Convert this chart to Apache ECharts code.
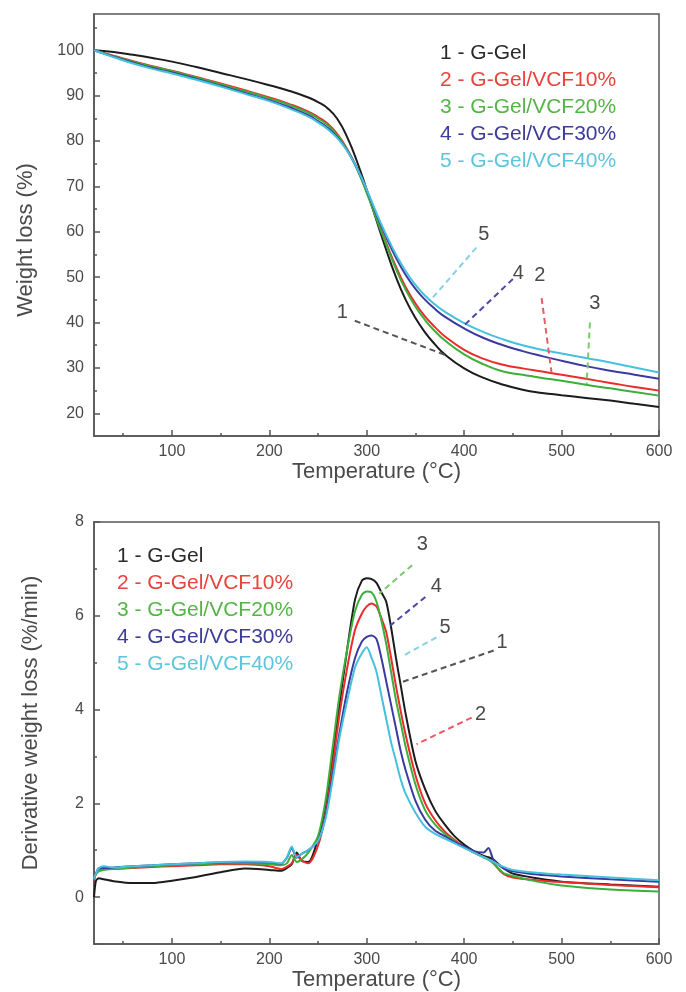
<!DOCTYPE html>
<html>
<head>
<meta charset="utf-8">
<script src="https://cdn.jsdelivr.net/npm/echarts@6/dist/echarts.min.js"></script>
<style>
  html, body { margin: 0; padding: 0; background: #fff; }
  #chart { width: 686px; height: 992px; }
</style>
</head>
<body>
<div id="chart"></div>
<script>
// ---- Sample names and colours ----
const seriesNames = ['1 - G-Gel', '2 - G-Gel/VCF10%', '3 - G-Gel/VCF20%', '4 - G-Gel/VCF30%', '5 - G-Gel/VCF40%'];
const calloutNumbers = ['1', '2', '3', '4', '5'];
const lineColors = ['#1c1c1c', '#ec2b2b', '#3caf3a', '#3b3aa0', '#46c1dc'];
const legendColors = ['#2a2a2a', '#e8433c', '#55b447', '#3d3c9a', '#5cc5dc'];

// ---- TGA: weight remaining (%) vs temperature (°C) ----
const tgaTemp = [20, 40, 60, 80, 100, 125, 150, 175, 200, 220, 240, 250, 260, 270, 280, 290, 300, 310, 320, 330, 340, 350, 360, 370, 380, 400, 420, 440, 460, 480, 500, 525, 550, 575, 600];
const tgaGel    = [100, 99.6, 99.0, 98.3, 97.5, 96.3, 95.0, 93.7, 92.3, 91.1, 89.6, 88.6, 87.2, 84.8, 80.8, 75.5, 69.2, 62.5, 56.0, 50.0, 45.0, 41.0, 37.8, 35.2, 33.0, 29.9, 27.8, 26.3, 25.2, 24.5, 24.0, 23.4, 22.8, 22.1, 21.4];
const tgaVcf10  = [100, 98.8, 97.6, 96.5, 95.5, 94.1, 92.7, 91.2, 89.6, 88.2, 86.5, 85.3, 83.8, 81.5, 78.2, 74.0, 68.8, 63.0, 57.5, 52.3, 47.8, 44.2, 41.3, 39.0, 37.0, 34.0, 32.0, 30.7, 29.9, 29.2, 28.5, 27.6, 26.7, 25.8, 25.0];
const tgaVcf20  = [100, 98.7, 97.5, 96.4, 95.4, 94.0, 92.5, 91.0, 89.4, 88.0, 86.2, 85.0, 83.5, 81.2, 78.0, 73.8, 68.6, 62.8, 57.2, 51.8, 47.2, 43.5, 40.5, 38.1, 36.1, 33.0, 30.8, 29.2, 28.5, 27.8, 27.2, 26.3, 25.5, 24.7, 23.9];
const tgaVcf30  = [100, 98.6, 97.3, 96.1, 95.1, 93.7, 92.2, 90.6, 89.0, 87.5, 85.7, 84.4, 82.9, 80.8, 77.9, 74.0, 69.2, 63.8, 58.8, 54.3, 50.5, 47.4, 45.0, 43.0, 41.3, 38.7, 36.6, 35.0, 33.7, 32.6, 31.6, 30.4, 29.4, 28.5, 27.6];
const tgaVcf40  = [100, 98.5, 97.1, 95.9, 94.9, 93.5, 92.0, 90.4, 88.8, 87.2, 85.4, 84.1, 82.6, 80.6, 77.8, 74.0, 69.3, 64.1, 59.3, 55.0, 51.3, 48.3, 45.9, 44.0, 42.4, 39.9, 37.9, 36.3, 35.0, 34.0, 33.2, 32.2, 31.2, 30.1, 29.0];

// ---- DTG: derivative weight loss (%/min) vs temperature (°C) ----
const dtgTemp = [20, 22, 25, 30, 40, 60, 80, 100, 125, 150, 175, 200, 212, 218, 223, 228, 233, 240, 250, 258, 265, 272, 280, 288, 295, 300, 305, 310, 315, 320, 325, 330, 335, 340, 350, 360, 370, 380, 390, 400, 410, 420, 425, 430, 440, 450, 475, 500, 550, 600];
const dtgGel    = [0.0, 0.35, 0.40, 0.38, 0.34, 0.30, 0.30, 0.35, 0.43, 0.53, 0.61, 0.58, 0.56, 0.62, 0.70, 0.95, 0.78, 0.75, 1.25, 2.0, 3.0, 4.1, 5.3, 6.35, 6.75, 6.8, 6.78, 6.7, 6.5, 6.3, 5.75, 5.1, 4.5, 3.9, 2.9, 2.3, 1.85, 1.55, 1.3, 1.12, 0.98, 0.88, 0.85, 0.80, 0.62, 0.50, 0.40, 0.33, 0.27, 0.22];
const dtgVcf10  = [0.35, 0.50, 0.58, 0.60, 0.60, 0.62, 0.64, 0.66, 0.68, 0.70, 0.70, 0.66, 0.60, 0.65, 0.72, 0.90, 0.78, 0.72, 1.1, 1.8, 2.8, 3.9, 4.9, 5.7, 6.05, 6.2, 6.26, 6.2, 5.95, 5.65, 5.1, 4.5, 3.95, 3.45, 2.6, 2.0, 1.65, 1.4, 1.22, 1.07, 0.95, 0.85, 0.80, 0.72, 0.50, 0.42, 0.36, 0.32, 0.26, 0.21];
const dtgVcf20  = [0.40, 0.50, 0.55, 0.58, 0.60, 0.63, 0.66, 0.68, 0.70, 0.72, 0.72, 0.70, 0.68, 0.72, 0.90, 0.75, 0.80, 0.95, 1.3, 2.1, 3.2, 4.3, 5.3, 6.1, 6.45, 6.52, 6.5, 6.3, 5.9, 5.4, 4.8, 4.2, 3.7, 3.2, 2.4, 1.85, 1.55, 1.35, 1.2, 1.06, 0.95, 0.85, 0.80, 0.72, 0.52, 0.45, 0.33, 0.25, 0.16, 0.12];
const dtgVcf30  = [0.38, 0.50, 0.62, 0.62, 0.63, 0.66, 0.68, 0.70, 0.72, 0.74, 0.75, 0.74, 0.71, 0.84, 1.05, 0.84, 0.92, 1.0, 1.2, 1.75, 2.6, 3.5, 4.4, 5.1, 5.45, 5.55, 5.58, 5.5, 5.1, 4.6, 4.1, 3.6, 3.1, 2.7, 2.05, 1.65, 1.42, 1.3, 1.18, 1.08, 0.98, 0.95, 1.05, 0.80, 0.62, 0.55, 0.48, 0.44, 0.38, 0.33];
const dtgVcf40  = [0.38, 0.50, 0.62, 0.66, 0.63, 0.66, 0.68, 0.70, 0.72, 0.75, 0.76, 0.75, 0.72, 0.85, 1.08, 0.85, 0.92, 1.0, 1.2, 1.7, 2.5, 3.4, 4.2, 4.9, 5.2, 5.33, 5.1, 4.8, 4.3, 3.8, 3.3, 2.9, 2.5, 2.2, 1.8, 1.5, 1.35, 1.25, 1.15, 1.05, 0.95, 0.85, 0.80, 0.75, 0.65, 0.58, 0.52, 0.48, 0.42, 0.36];

// ---- Axis ticks and labels ----
const tempLabels = [100, 200, 300, 400, 500, 600];
const tempMinorTicks = [50, 150, 250, 350, 450, 550];
const tgaLabels = [20, 30, 40, 50, 60, 70, 80, 90, 100];
const tgaMinorTicks = [25, 35, 45, 55, 65, 75, 85, 95, 105];
const dtgLabels = [0, 2, 4, 6, 8];
const dtgMinorTicks = [-1, 1, 3, 5, 7];

// ---- Numbered call-outs: [label x, label y, line start x, line start y, line end x, line end y] ----
const tgaCallouts = [
  [275, 42.2, 287.7, 40.4, 380, 32.9],
  [477.7, 50.3, 479.5, 45.4, 489.7, 28.9],
  [534.2, 44.3, 529.1, 40.0, 525.7, 26.4],
  [455.6, 50.9, 450, 49.6, 397.6, 38.9],
  [420.2, 59.5, 412.5, 56.5, 365.7, 45.0]
];
const dtgCallouts = [
  [439, 5.44, 430.3, 5.26, 335.3, 4.58],
  [416.7, 3.9, 407.7, 3.83, 351.1, 3.26],
  [357, 7.51, 346.6, 7.08, 312.7, 6.47],
  [371.5, 6.62, 360.2, 6.40, 324, 5.79],
  [380.5, 5.76, 371.5, 5.54, 337.6, 5.15]
];
const calloutColors = ['#555555', '#ec5a62', '#7cc86c', '#4b4aa6', '#86d2e4'];

const tgaSeries = [tgaGel, tgaVcf10, tgaVcf20, tgaVcf30, tgaVcf40];
const dtgSeries = [dtgGel, dtgVcf10, dtgVcf20, dtgVcf30, dtgVcf40];

const FONT = '"Liberation Sans", Arial, sans-serif';
const AXIS_COLOR = '#555';
const TEXT_COLOR = '#4a4a4a';

function zip(xs, ys) { return xs.map((x, i) => [x, ys[i]]); }

function callout(c, color, text) {
  return {
    markLine: {
      silent: true, symbol: ['none', 'none'], animation: false,
      label: { show: false },
      lineStyle: { type: [6, 4], width: 2, color: color },
      data: [[{ coord: [c[2], c[3]] }, { coord: [c[4], c[5]] }]]
    },
    markPoint: {
      silent: true, animation: false, symbol: 'circle', symbolSize: 1,
      itemStyle: { color: 'rgba(0,0,0,0)' },
      label: { show: true, position: 'inside', formatter: text, fontFamily: FONT, fontSize: 20, color: '#4a4a4a' },
      data: [{ coord: [c[0], c[1]] }]
    }
  };
}

function xAxes(gridIndex) {
  return [
    {
      type: 'value', gridIndex, min: 20, max: 600, position: 'bottom',
      name: 'Temperature (°C)', nameLocation: 'middle', nameGap: 20,
      nameTextStyle: { fontFamily: FONT, fontSize: 22, color: TEXT_COLOR },
      axisLine: { show: true, onZero: false, lineStyle: { color: AXIS_COLOR, width: 1.5 } },
      axisTick: { show: true, inside: true, length: 6, customValues: tempLabels, lineStyle: { color: AXIS_COLOR, width: 1.5 } },
      axisLabel: { customValues: tempLabels, margin: 8, fontFamily: FONT, fontSize: 16, color: TEXT_COLOR },
      splitLine: { show: false }
    },
    {
      type: 'value', gridIndex, min: 20, max: 600, position: 'bottom',
      axisLine: { show: false, onZero: false },
      axisTick: { show: true, inside: true, length: 3, customValues: tempMinorTicks, lineStyle: { color: AXIS_COLOR, width: 1.5 } },
      axisLabel: { show: false },
      splitLine: { show: false }
    }
  ];
}

function yAxes(gridIndex, min, max, labels, minor, name, gap, namePadding) {
  return [
    {
      type: 'value', gridIndex, min, max, position: 'left',
      name, nameLocation: 'middle', nameGap: gap,
      nameTextStyle: { fontFamily: FONT, fontSize: 22, color: TEXT_COLOR, padding: namePadding },
      axisLine: { show: true, onZero: false, lineStyle: { color: AXIS_COLOR, width: 1.5 } },
      axisTick: { show: true, inside: true, length: 6, customValues: labels, lineStyle: { color: AXIS_COLOR, width: 1.5 } },
      axisLabel: { customValues: labels, margin: 10, fontFamily: FONT, fontSize: 16, color: TEXT_COLOR },
      splitLine: { show: false }
    },
    {
      type: 'value', gridIndex, min, max, position: 'left',
      axisLine: { show: false, onZero: false },
      axisTick: { show: true, inside: true, length: 3, customValues: minor, lineStyle: { color: AXIS_COLOR, width: 1.5 } },
      axisLabel: { show: false },
      splitLine: { show: false }
    }
  ];
}

function legend(left, top) {
  return {
    orient: 'vertical', left, top, icon: 'none', itemWidth: 0, itemHeight: 20, itemGap: 6,
    selectedMode: false,
    textStyle: { fontFamily: FONT, fontSize: 21 },
    data: seriesNames.map((n, i) => ({ name: n, textStyle: { color: legendColors[i] } }))
  };
}

const series = [];
tgaSeries.forEach((ys, i) => {
  series.push(Object.assign({
    name: seriesNames[i], type: 'line', xAxisIndex: 0, yAxisIndex: 0,
    data: zip(tgaTemp, ys), showSymbol: false, smooth: 0.5,
    lineStyle: { color: lineColors[i], width: 2 }, itemStyle: { color: lineColors[i] },
    z: 2
  }, callout(tgaCallouts[i], calloutColors[i], calloutNumbers[i])));
});
dtgSeries.forEach((ys, i) => {
  series.push(Object.assign({
    name: seriesNames[i], type: 'line', xAxisIndex: 2, yAxisIndex: 2,
    data: zip(dtgTemp, ys), showSymbol: false, smooth: 0.25,
    lineStyle: { color: lineColors[i], width: 2 }, itemStyle: { color: lineColors[i] },
    z: 2
  }, callout(dtgCallouts[i], calloutColors[i], calloutNumbers[i])));
});

const chart = echarts.init(document.getElementById('chart'), null, { renderer: 'canvas' });
chart.setOption({
  animation: false,
  backgroundColor: '#ffffff',
  grid: [
    { left: 94, right: 27, top: 14, height: 422, show: true, borderColor: AXIS_COLOR, borderWidth: 1.5, backgroundColor: 'transparent' },
    { left: 94, right: 27, top: 522, height: 422, show: true, borderColor: AXIS_COLOR, borderWidth: 1.5, backgroundColor: 'transparent' }
  ],
  legend: [legend(430, 38), legend(107, 541)],
  xAxis: xAxes(0).concat(xAxes(1)),
  yAxis: yAxes(0, 15, 108, tgaLabels, tgaMinorTicks, 'Weight loss (%)', 57, [0, 30, 0, 0])
    .concat(yAxes(1, -1, 8, dtgLabels, dtgMinorTicks, 'Derivative weight loss (%/min)', 52, [0, 0, 0, 20])),
  series
});
</script>
</body>
</html>
